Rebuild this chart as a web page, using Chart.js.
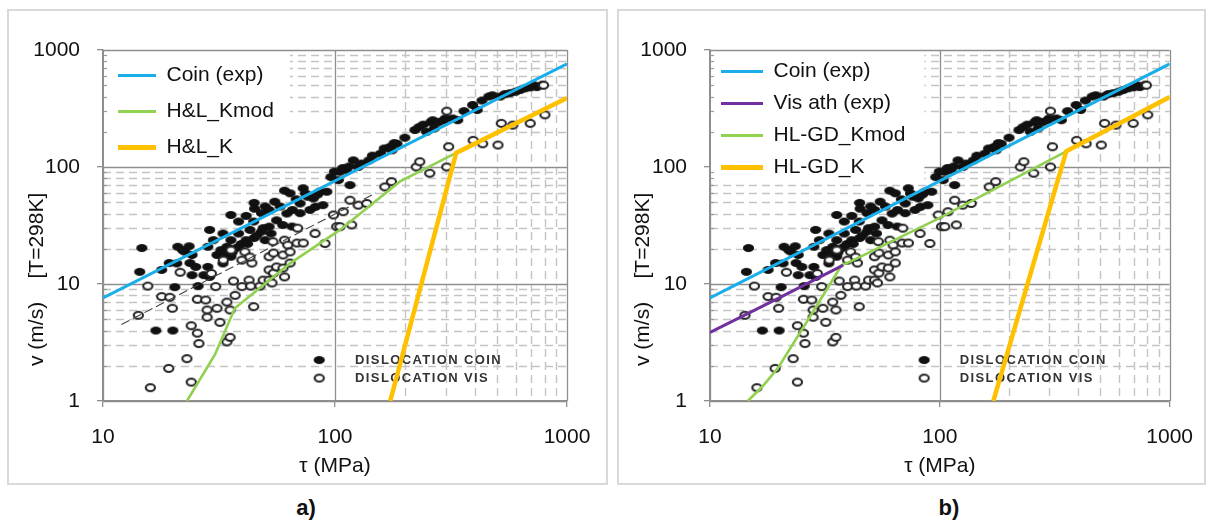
<!DOCTYPE html>
<html><head><meta charset="utf-8">
<script src="https://cdn.jsdelivr.net/npm/chart.js@4.4.1/dist/chart.umd.min.js"></script>
<style>
html,body{margin:0;padding:0;background:#fff;}
body{width:1211px;height:521px;position:relative;overflow:hidden;font-family:"Liberation Sans",Arial,sans-serif;}
.frame{position:absolute;border:2px solid #d9d9d9;box-sizing:border-box;}
.cap{position:absolute;font-weight:bold;font-size:22px;line-height:26px;color:#111;text-align:center;width:60px;}
canvas{position:absolute;top:0;left:0;}
</style></head><body>
<div class="frame" style="left:7px;top:9px;width:601px;height:476px"></div>
<div class="frame" style="left:617px;top:9px;width:589px;height:476px"></div>
<div style="position:absolute;left:0;top:0;width:612px;height:490px"><canvas id="ca" width="612" height="490"></canvas></div>
<div style="position:absolute;left:612px;top:0;width:599px;height:490px"><canvas id="cb" width="599" height="490"></canvas></div>
<div class="cap" style="left:276px;top:495px">a)</div>
<div class="cap" style="left:919px;top:495px">b)</div>
<script>
// ---------- data ----------
const xTicks = [10, 100, 1000];
const yTicks = [1, 10, 100, 1000];

// filled symbols: "DISLOCATION COIN"
const coinPts = [
 [14.7,20.3],[14.4,12.7],[17.9,13.2],[19.3,15.1],[20.8,15],[20.4,9.4],[16.9,4.0],[20,4.0],
 [21,20.8],[22.5,18.9],[22,19.5],[23.5,21],[24.2,17.7],[23.7,15.1],[25.1,14],[24.2,11.9],[27.2,11.9],[25.7,9.6],
 [28.8,29],[28.3,20.8],[29.9,23.7],[28.3,14],[28.8,11.5],[31,17.7],[32.2,19.5],[32.9,27],
 [32.9,15],[33.5,18],[34.2,20.8],[35.6,23.7],[35.6,17.1],[36,18.5],[35.6,38.9],[37,20],[38.4,27],[38.4,34.2],[38.4,20.8],
 [39.5,22],[41.4,23.7],[42,22],[41.4,38.2],[43,29],[44.6,34.2],[44.8,24.7],[44.8,49.3],[45,44],[46,26],[48.2,40.3],[48.2,28],
 [49,30],[50,23.7],[50,46],[52,30.9],[52,43],[53,27],[55,50.5],[56,35],[58,46],[59.5,31.9],[60.6,62.8],[62,40],[64,59.6],[65.3,31],
 [65.5,42.9],[68,53],[70.7,48.8],[70.7,40.3],[72.9,65.8],[74.5,59.5],[76.2,55.7],[78,43],[80.6,53.9],
 [82.3,45.6],[84,58],[86.3,61.6],[88.7,47.2],[92.2,61.5],[96,82],[99.5,91.3],[103.4,77.2],[105,91],[108,98],[111.7,94.3],
 [115,101],[116,70],[120,114],[126,100],[130,107],[140,114],[145,125],[157,130],[163,144],[173,149],[176,139],
 [180,160],[185,158],[200,178],[221,207],[230,219],[240,230],[248,200],[259,242],[264,251],[268,214],[280,242],[294,251],[300,261],
 [322,260],[338,251],[360,300],[392,339],[410,307],[430,370],[460,400],[477,410],[515,400],[540,420],[568,427],[600,440],[628,455],
 [660,470],[697,480],[720,500],[742,482],[784,505]
];
// open symbols: "DISLOCATION VIS"
const visPts = [
 [14.2,5.4],[15.6,9.6],[16,1.3],[17.9,7.8],[19.2,1.9],[19.4,7.7],[19.9,6.2],[21.5,12.6],
 [23,2.3],[24,4.4],[24,1.45],[25.5,3.8],[25.9,3.1],[25.5,7.4],[27.7,7.3],[28.1,6.0],[28.1,5.2],
 [29.3,12.3],[30.6,9.5],[31,6.2],[31.9,4.7],[33,16],[34.2,3.2],[35.3,3.5],[34.2,7.0],[35.3,6.0],
 [35.6,19.5],[36.5,10.6],[37.1,8.0],[39.7,9.5],[39.7,16],[40.9,18.8],[42.6,10.8],[43.3,9.6],
 [43.8,15.1],[43,17],[44.6,6.4],[47.5,9.6],[49,10.8],[52,10.8],[52,13.2],[52,17.1],[53.5,10.2],
 [54.3,12.4],[54.3,18.4],[54,23],[56,14],[59.7,13.7],[59.7,17.7],[60.6,11.5],[60.6,23.7],
 [62.6,21.5],[64,15.1],[64,18.8],[68.6,22.4],[69,30],[73,22.4],[82,27],[90.5,22.2],[98.5,38.9],
 [101.7,30.9],[105,30.9],[108.5,41.5],[116,52],[118,32],[125.8,47.2],[137,48.8],[164,67.6],
 [175,74.9],[224,100],[232,111],[256,88.5],[303,100],[303,300],[309,149],[394,169],[433,158],
 [504,154],[521,236],[584,228],[694,236],[803,279],[792,500]
];

const coinExp   = [[10,7.6],[1000,760]];
const hlKmodA   = [[23,1],[30.4,2.5],[37,6.2],[64,15],[105,29],[190,75],[333,132]];
const hlKA      = [[173,1],[333,132],[1000,389]];
const fitVisA   = [[12,4.5],[150,60]];
const visAthB   = [[10,3.85],[20,7.6],[38,14.5]];
const hlgdKmodB = [[14.6,1],[16.9,1.33],[19.7,1.9],[26.1,4.6],[34.5,11.2],[37.4,14.5],[41,15.6],[98,36],[355,136]];
const hlgdKB    = [[171,1],[355,136],[1000,396]];

const keyLabels = ['DISLOCATION COIN', 'DISLOCATION VIS'];
const keyCoin = [[85.5,2.24]];
const keyVis  = [[85.5,1.57]];
const keyTextX = 122;
const keyTextY = [2.24, 1.57];

// ---------- styling helpers ----------
const FONT = '"Liberation Sans", Arial, sans-serif';
const C_BLUE = '#1aaee8', C_GREEN = '#92d050', C_ORANGE = '#ffc000', C_PURPLE = '#7030a0';

function sprite(w, h, rx, ry, fill, stroke, lw) {
  const c = document.createElement('canvas'); c.width = w; c.height = h;
  const g = c.getContext('2d');
  g.beginPath(); g.ellipse(w / 2, h / 2, rx, ry, 0, 0, Math.PI * 2);
  if (fill) { g.fillStyle = fill; g.fill(); }
  if (stroke) { g.lineWidth = lw; g.strokeStyle = stroke; g.stroke(); }
  return c;
}
const dotFilled = sprite(13, 10, 5.6, 4.0, '#111', null, 0);
const dotOpen = sprite(13, 11, 4.6, 3.5, '#fff', '#262626', 2.1);

const minorGrid = [];
[1, 10, 100].forEach(d => { for (let k = 2; k <= 9; k++) minorGrid.push(k * d); });
const xMinorGrid = minorGrid.filter(v => v > 100);

const pts = a => a.map(([x, y]) => ({x, y}));

const gridPlugin = {
  id: 'logGrid',
  beforeDraw(chart, args, o) {
    const {ctx, chartArea: a} = chart;
    const sx = chart.scales.x, sy = chart.scales.y;
    ctx.save();
    const hl = v => { const p = Math.round(sy.getPixelForValue(v)) + 0.5; ctx.beginPath(); ctx.moveTo(a.left, p); ctx.lineTo(a.right, p); ctx.stroke(); };
    const vl = v => { const p = Math.round(sx.getPixelForValue(v)) + 0.5; ctx.beginPath(); ctx.moveTo(p, a.top); ctx.lineTo(p, a.bottom); ctx.stroke(); };
    ctx.lineWidth = 1.4; ctx.strokeStyle = '#c4c4c4'; ctx.setLineDash([8, 5]);
    minorGrid.forEach(hl); xMinorGrid.forEach(vl);
    ctx.setLineDash([]); ctx.strokeStyle = '#8e8e8e'; ctx.lineWidth = 1.3;
    yTicks.forEach(hl); xTicks.forEach(vl);
    const lg = chart.legend;
    if (lg && lg.legendHitBoxes && lg.legendHitBoxes.length) {
      let r = a.left, b = a.top;
      lg.legendHitBoxes.forEach(h => { r = Math.max(r, h.left + h.width); b = Math.max(b, h.top + h.height); });
      ctx.fillStyle = '#fff';
      ctx.fillRect(a.left + 1, a.top + 2, r + o.padR - a.left - 1, b + o.padB - a.top - 2);
    }
    // short minor tick marks along the inner side of the value axis
    ctx.strokeStyle = '#9a9a9a'; ctx.lineWidth = 1.2;
    minorGrid.forEach(v => { const p = Math.round(sy.getPixelForValue(v)) + 0.5; ctx.beginPath(); ctx.moveTo(a.left, p); ctx.lineTo(a.left + 4, p); ctx.stroke(); });
    ctx.restore();
  }
};
const legendFix = {
  id: 'legendFix',
  afterUpdate(chart) {
    const lg = chart.legend; if (!lg) return;
    const ca = chart.chartArea;
    lg.left = ca.left; lg.top = ca.top; lg.bottom = ca.bottom; lg.right = ca.right;
    lg.fit();
    lg.adjustHitBoxes();
  }
};
const keyText = {
  id: 'keyText',
  beforeDatasetsDraw(chart) {
    const {ctx} = chart; const sx = chart.scales.x, sy = chart.scales.y;
    ctx.save();
    ctx.font = 'bold 13px ' + FONT;
    try { ctx.letterSpacing = '1.4px'; } catch (e) {}
    ctx.fillStyle = '#333'; ctx.textBaseline = 'middle'; ctx.textAlign = 'left';
    keyLabels.forEach((t, i) => ctx.fillText(t, sx.getPixelForValue(keyTextX), sy.getPixelForValue(keyTextY[i])));
    ctx.restore();
  }
};

function lineDs(label, arr, color, width, order, legendWidth) {
  return {label, data: pts(arr), showLine: true, borderColor: color, backgroundColor: color,
    borderWidth: width, pointRadius: 0, order, legendLine: true, legendWidth, tension: 0};
}
function pointDs(label, arr, style, order) {
  return {label, data: pts(arr), showLine: false, pointStyle: style, pointRadius: 4, order,
    borderColor: '#111', backgroundColor: '#111'};
}

function makePanel(id, o) {
  const tickFont = {family: FONT, size: 21};
  new Chart(document.getElementById(id), {
    type: 'scatter',
    data: {datasets: o.datasets},
    options: {
      responsive: false, animation: false, devicePixelRatio: 1, events: [],
      layout: {padding: {left: 0, top: 50, right: o.padRight, bottom: 0}},
      plugins: {
        tooltip: {enabled: false},
        logGrid: {padR: o.boxR, padB: o.boxB},
        legend: {
          position: 'chartArea', align: 'start',
          labels: {
            usePointStyle: true, pointStyleWidth: o.sampleW, padding: o.legPad,
            font: {family: FONT, size: 21}, color: '#111',
            generateLabels: chart => chart.data.datasets.map((d, i) => ({d, i})).filter(e => e.d.legendLine)
              .map(({d, i}) => ({text: d.label, fillStyle: d.borderColor, strokeStyle: d.borderColor,
                lineWidth: d.legendWidth, pointStyle: 'line', lineCap: 'butt', hidden: false,
                datasetIndex: i, fontColor: '#111'}))
          }
        }
      },
      scales: {
        x: {
          type: 'logarithmic', min: 10, max: 1000,
          afterBuildTicks: s => { s.ticks = xTicks.map(v => ({value: v})); },
          afterFit: s => { s.height = 89; },
          ticks: {callback: v => String(v), font: tickFont, color: '#111', padding: 18, autoSkip: false, maxRotation: 0},
          grid: {drawOnChartArea: false, drawTicks: true, tickLength: 6, color: '#8e8e8e', lineWidth: 1.3},
          border: {display: true, color: '#8e8e8e', width: 1.5},
          title: {display: true, text: 'τ (MPa)', font: tickFont, color: '#111', padding: {top: 0, bottom: 11}}
        },
        y: {
          type: 'logarithmic', min: 1, max: 1000,
          afterBuildTicks: s => { s.ticks = yTicks.map(v => ({value: v})); },
          afterFit: s => { s.width = o.yWidth; },
          ticks: {callback: v => String(v), font: tickFont, color: '#111', padding: 17, autoSkip: false},
          grid: {drawOnChartArea: false, drawTicks: true, tickLength: 6, color: '#8e8e8e', lineWidth: 1.3},
          border: {display: true, color: '#8e8e8e', width: 1.5},
          title: {display: true, text: '      v (m/s)    [T=298K]', align: 'start', font: tickFont, color: '#111',
            padding: {top: o.yTitlePad, bottom: 0}}
        }
      }
    },
    plugins: [gridPlugin, legendFix, keyText]
  });
}

makePanel('ca', {
  padRight: 45, yWidth: 103, yTitlePad: 25, legPad: 15, sampleW: 38, boxR: 16, boxB: 8,
  datasets: [
    lineDs('Coin (exp)', coinExp, C_BLUE, 3, 3, 3),
    lineDs('H&L_Kmod', hlKmodA, C_GREEN, 2.6, 2, 3),
    lineDs('H&L_K', hlKA, C_ORANGE, 4.5, 1, 5),
    {label: 'fit', data: pts(fitVisA), showLine: true, borderColor: '#444', borderWidth: 1.1, borderDash: [9, 4], pointRadius: 0, order: 4},
    pointDs('DISLOCATION COIN key', keyCoin, dotFilled, 5),
    pointDs('DISLOCATION VIS key', keyVis, dotOpen, 5),
    pointDs('Dislocation vis', visPts, dotOpen, 6),
    pointDs('Dislocation coin', coinPts, dotFilled, 7)
  ]
});
makePanel('cb', {
  padRight: 38, yWidth: 98, yTitlePad: 19, legPad: 11, sampleW: 42, boxR: 19, boxB: 3,
  datasets: [
    lineDs('Coin (exp)', coinExp, C_BLUE, 3, 3, 3),
    lineDs('Vis ath (exp)', visAthB, C_PURPLE, 3, 2, 3),
    lineDs('HL-GD_Kmod', hlgdKmodB, C_GREEN, 2.6, 2, 3),
    lineDs('HL-GD_K', hlgdKB, C_ORANGE, 4.5, 1, 5),
    pointDs('DISLOCATION COIN key', keyCoin, dotFilled, 5),
    pointDs('DISLOCATION VIS key', keyVis, dotOpen, 5),
    pointDs('Dislocation vis', visPts, dotOpen, 6),
    pointDs('Dislocation coin', coinPts, dotFilled, 7)
  ]
});
</script>
</body></html>
